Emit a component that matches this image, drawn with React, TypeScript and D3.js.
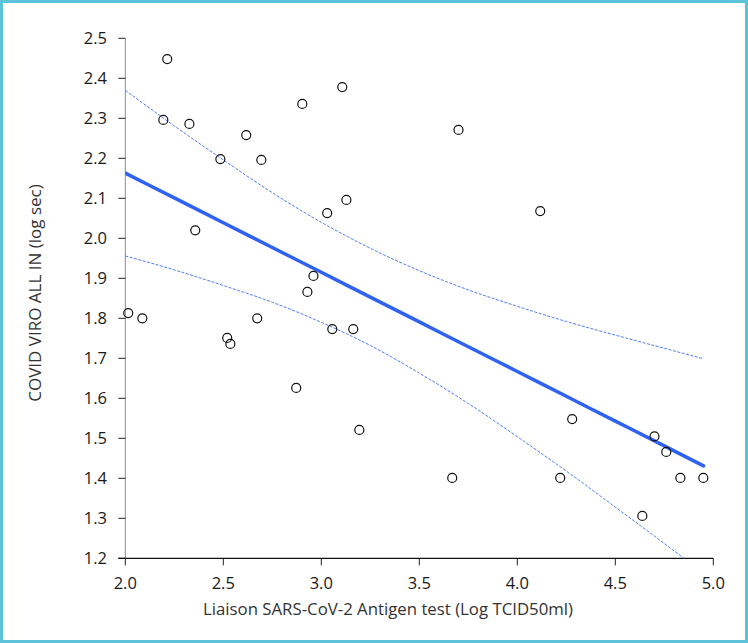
import React from "react";
import * as d3 from "d3";

const pointX = [2.015, 2.087, 2.214, 2.194, 2.327, 2.357, 2.485, 2.617, 2.694, 2.52, 2.536, 2.673, 2.872, 2.903, 3.107, 3.03, 3.128, 2.96, 2.929, 3.056, 3.163, 3.194, 3.7, 3.668, 4.117, 4.219, 4.28, 4.7, 4.76, 4.832, 4.949, 4.638];
const pointY = [1.813, 1.8, 2.448, 2.296, 2.286, 2.02, 2.198, 2.258, 2.196, 1.751, 1.736, 1.8, 1.626, 2.336, 2.378, 2.063, 2.096, 1.906, 1.866, 1.773, 1.773, 1.521, 2.271, 1.401, 2.068, 1.401, 1.548, 1.505, 1.466, 1.401, 1.401, 1.306];

const fitX = [2.0, 2.25, 2.5, 2.75, 3.0, 3.25, 3.5, 3.75, 4.0, 4.25, 4.5, 4.75, 4.95];
const fitY = [2.163, 2.101, 2.039, 1.977, 1.915, 1.853, 1.791, 1.729, 1.667, 1.605, 1.543, 1.481, 1.431];
const upperY = [2.37, 2.281, 2.196, 2.114, 2.04, 1.975, 1.919, 1.871, 1.83, 1.792, 1.758, 1.725, 1.699];
const lowerY = [1.956, 1.921, 1.882, 1.84, 1.79, 1.732, 1.663, 1.587, 1.504, 1.418, 1.328, 1.237, 1.163];

const xTicks = [2.0, 2.5, 3.0, 3.5, 4.0, 4.5, 5.0];
const yTicks = [1.2, 1.3, 1.4, 1.5, 1.6, 1.7, 1.8, 1.9, 2.0, 2.1, 2.2, 2.3, 2.4, 2.5];

const W = 748;
const H = 643;
const FONT = "'Open Sans', 'Noto Sans', sans-serif";

export default function App() {
  const x = d3.scaleLinear().domain([2, 5]).range([125.3, 713.3]);
  const y = d3.scaleLinear().domain([1.2, 2.5]).range([558.3, 38.3]);
  const line = (ys: number[]) =>
    d3
      .line<number>()
      .x((_, i) => x(fitX[i]))
      .y((d) => y(d))
      .curve(d3.curveMonotoneX)(ys) || "";

  const x0 = x(2);
  const x1 = x(5);
  const yb = y(1.2);
  const yt = y(2.5);

  return (
    <svg
      width={W}
      height={H}
      style={{ position: "fixed", left: 0, top: 0, background: "#fff" }}
      fontFamily={FONT}
    >
      <defs>
        <clipPath id="plotClip">
          <rect x={x0} y={yt} width={x1 - x0} height={yb - yt} />
        </clipPath>
      </defs>
      <rect x={1.5} y={1.5} width={W - 3} height={H - 3} fill="#fff" stroke="#5dc3d8" strokeWidth={3} />

      {/* y axis */}
      <line x1={x0} x2={x0} y1={yt} y2={yb} stroke="#8a8a8a" strokeWidth={1} />
      {yTicks.map((t) => (
        <g key={"y" + t}>
          <line x1={x0 - 7} x2={x0} y1={y(t)} y2={y(t)} stroke="#222" strokeWidth={1} />
          <text x={107} y={y(t)} dy="0.36em" textAnchor="end" fontSize={16.5} fill="#1a1a1a">
            {t.toFixed(1)}
          </text>
        </g>
      ))}

      {/* x axis */}
      <line x1={x0 - 7} x2={x1} y1={yb} y2={yb} stroke="#111" strokeWidth={1.2} />
      {xTicks.map((t) => (
        <g key={"x" + t}>
          <line x1={x(t)} x2={x(t)} y1={yb} y2={yb + 7} stroke="#222" strokeWidth={1} />
          <text x={x(t)} y={589} textAnchor="middle" fontSize={16.5} fill="#1a1a1a">
            {t.toFixed(1)}
          </text>
        </g>
      ))}

      <text x={388} y={615} textAnchor="middle" fontSize={16.8} fill="#333">
        Liaison SARS-CoV-2 Antigen test (Log TCID50ml)
      </text>
      <text
        transform={`translate(41,293) rotate(-90)`}
        textAnchor="middle"
        fontSize={17}
        fill="#333"
      >
        COVID VIRO ALL IN (log sec)
      </text>

      <g clipPath="url(#plotClip)">
        <path d={line(upperY)} fill="none" stroke="#4d7cff" strokeWidth={1} strokeDasharray="3,1.5" />
        <path d={line(lowerY)} fill="none" stroke="#4d7cff" strokeWidth={1} strokeDasharray="3,1.5" />
        <path d={line(fitY)} fill="none" stroke="#2f62f2" strokeWidth={3.5} strokeLinecap="round" />
      </g>

      {pointX.map((px, i) => (
        <circle key={i} cx={x(px)} cy={y(pointY[i])} r={4.5} fill="none" stroke="#111" strokeWidth={1.2} />
      ))}
    </svg>
  );
}
